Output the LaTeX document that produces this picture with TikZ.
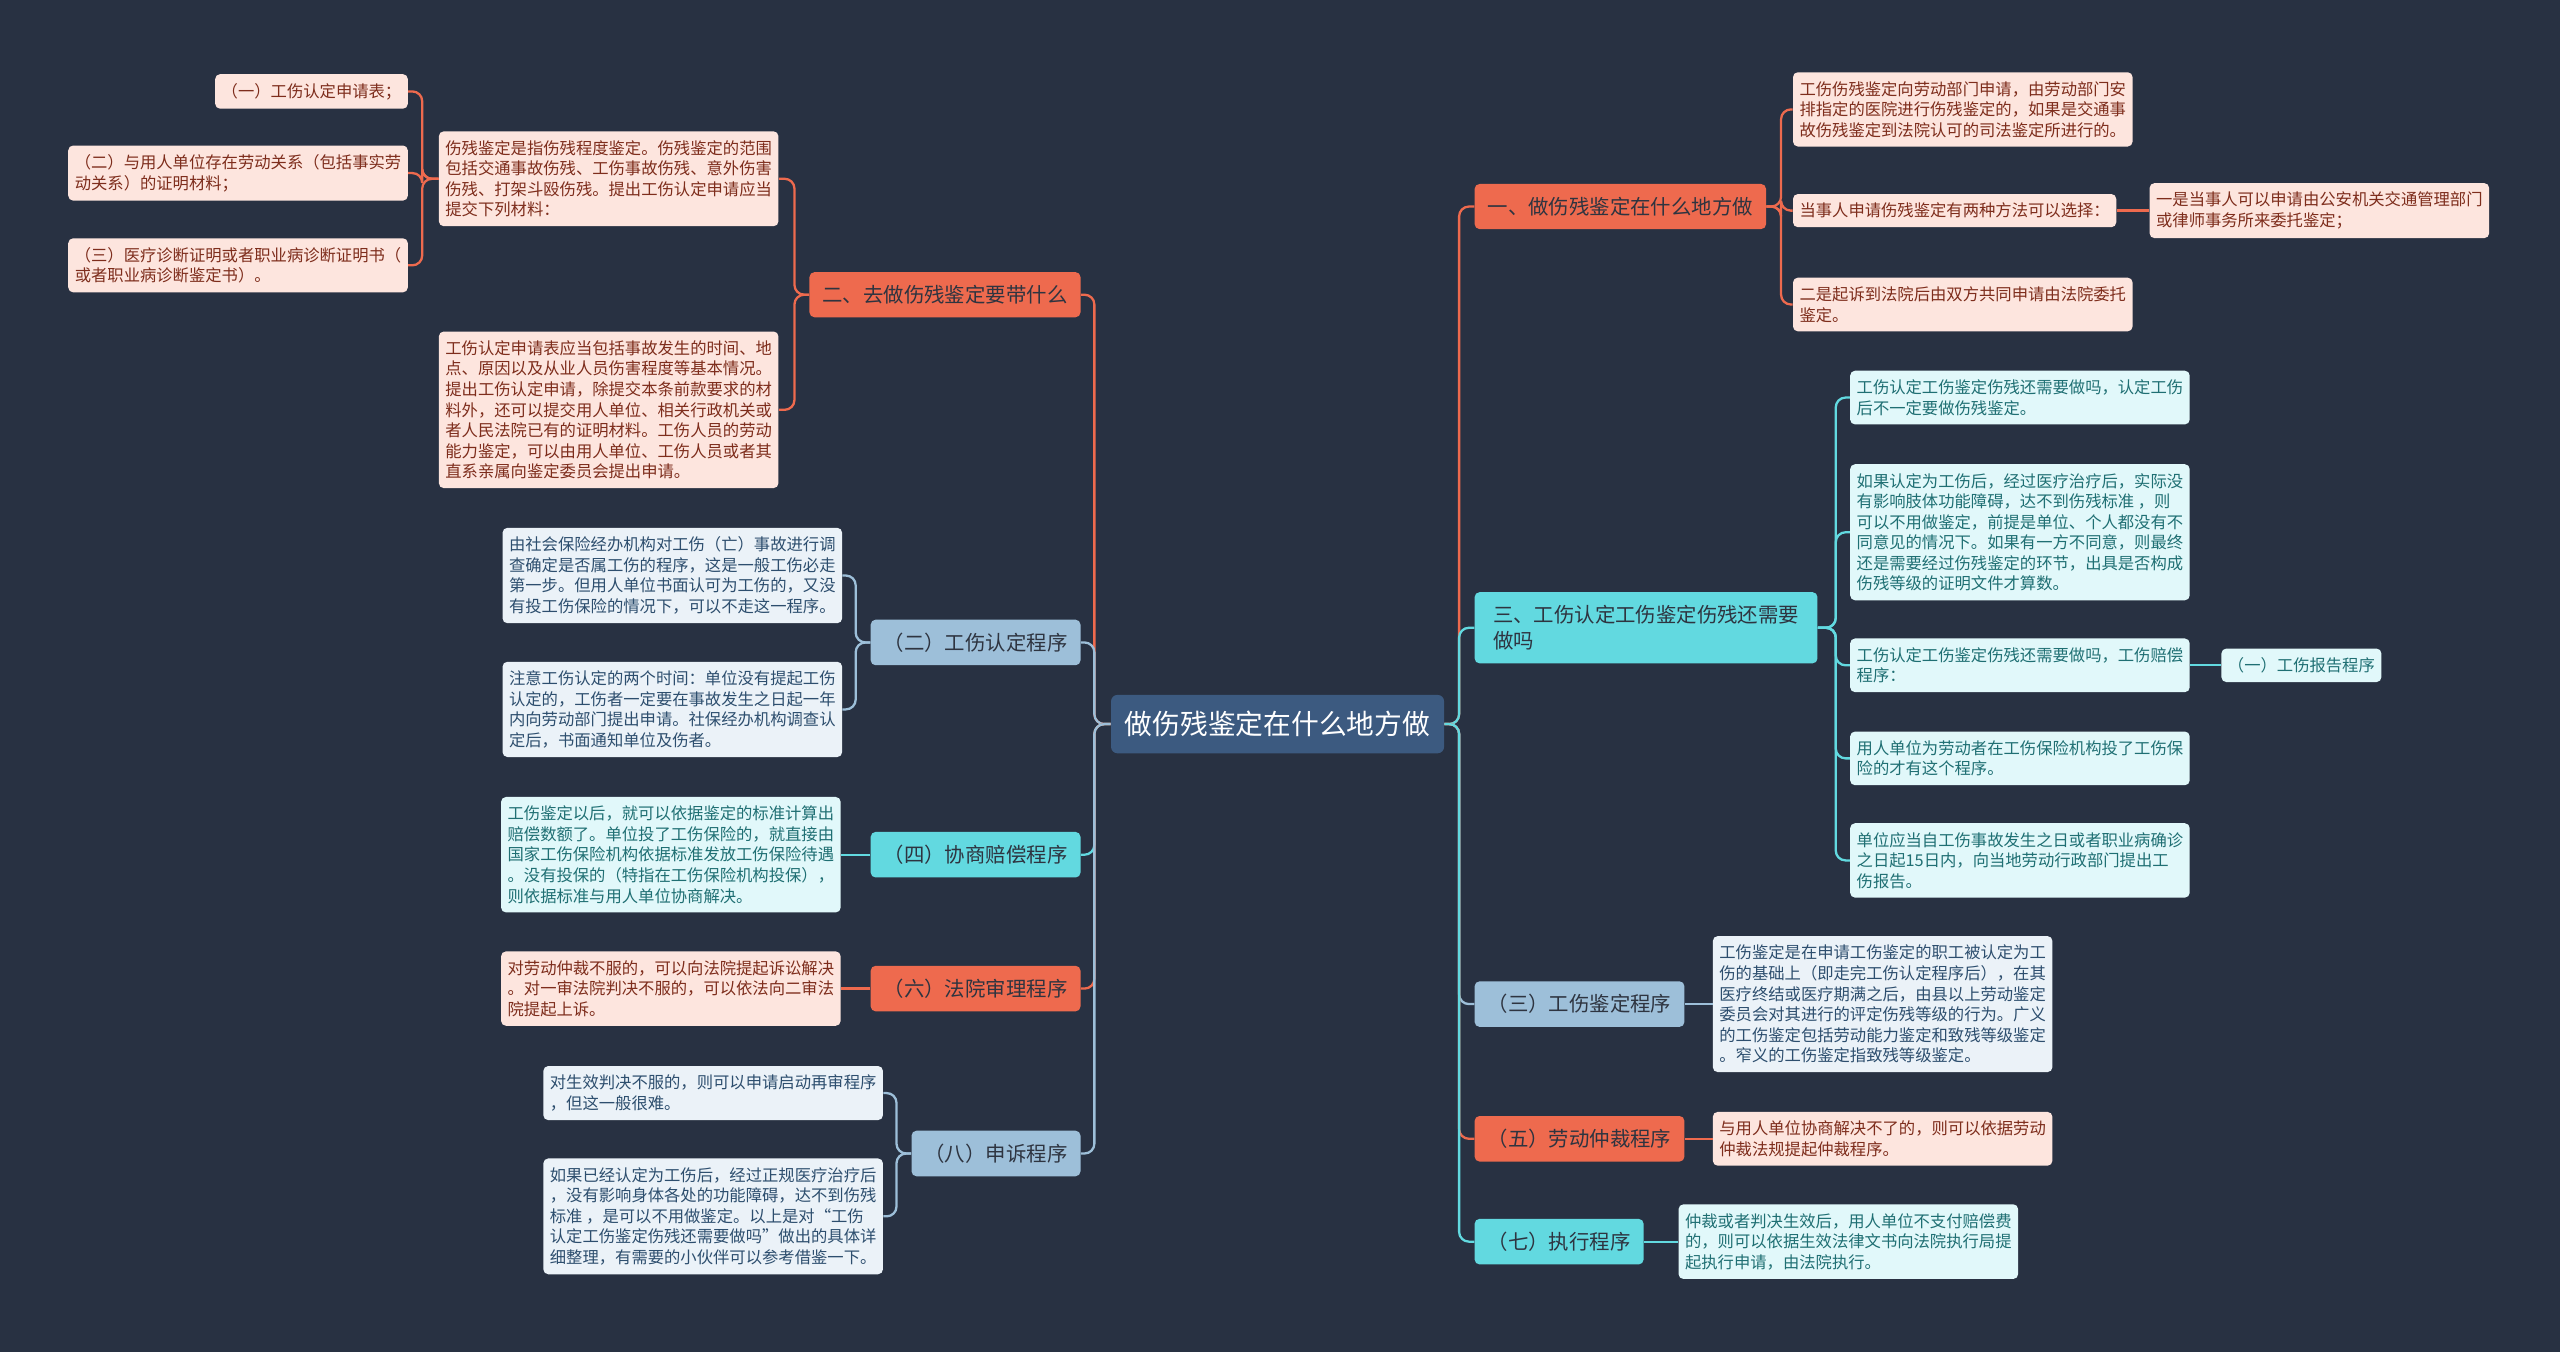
\documentclass[tikz,border=0pt]{standalone}
\usepackage{fontspec}
\setmainfont{Noto Sans CJK SC}
\usepackage{xcolor}
\usepackage{tikz}
\usetikzlibrary{positioning}

\definecolor{bg}{HTML}{283142}
\definecolor{rootfill}{HTML}{3C5A80}
\definecolor{coral}{HTML}{EE6A4E}
\definecolor{aqua}{HTML}{62D9E0}
\definecolor{steel}{HTML}{9DBFD9}
\definecolor{topicink}{HTML}{2E3440}
\definecolor{pinkfill}{HTML}{FDE5DE}
\definecolor{pinkink}{HTML}{7E2D1C}
\definecolor{aquafill}{HTML}{E1F8FA}
\definecolor{aquaink}{HTML}{1F6F73}
\definecolor{bluefill}{HTML}{EBF2F8}
\definecolor{blueink}{HTML}{2D4E6E}

\begin{document}
\begin{tikzpicture}[
    x=1pt, y=-1pt,
    root/.style={fill=rootfill, text=white, rounded corners=4pt, inner xsep=8.5pt, inner ysep=10pt,
        font=\fontsize{17}{20}\selectfont},
    topic/.style={rounded corners=3pt, align=left, inner xsep=8pt, inner ysep=8pt, text=topicink,
        font=\fontsize{12.5}{16}\selectfont},
    leaf/.style={rounded corners=3pt, align=left, inner xsep=4pt, inner ysep=5.5pt,
        font=\fontsize{10}{12.6}\selectfont},
    pinkleaf/.style={leaf, fill=pinkfill, text=pinkink},
    aqualeaf/.style={leaf, fill=aquafill, text=aquaink},
    blueleaf/.style={leaf, fill=bluefill, text=blueink},
    wire/.style={line width=1.4pt, rounded corners=6pt}
]
\useasboundingbox (0,0) rectangle (1568,828);
\fill[bg] (0,0) rectangle (1568,828);

% Root
\node[root] (root) at (782.5,443.5) {做伤残鉴定在什么地方做};

% Right side
\node[topic, fill=coral, anchor=west] (r1) at (903,126.5) {一、做伤残鉴定在什么地方做};
\node[pinkleaf, anchor=west] (r1a) at (1098,67) {工伤伤残鉴定向劳动部门申请，由劳动部门安\\排指定的医院进行伤残鉴定的，如果是交通事\\故伤残鉴定到法院认可的司法鉴定所进行的。};
\node[pinkleaf, anchor=west] (r1b) at (1098,129) {当事人申请伤残鉴定有两种方法可以选择：};
\node[pinkleaf, right=20pt of r1b] (r1b1) {一是当事人可以申请由公安机关交通管理部门\\或律师事务所来委托鉴定；};
\node[pinkleaf, anchor=west] (r1c) at (1098,186.5) {二是起诉到法院后由双方共同申请由法院委托\\鉴定。};

\node[topic, fill=aqua, anchor=west, minimum width=210pt] (r3) at (903,384.5) {三、工伤认定工伤鉴定伤残还需要\\做吗};
\node[aqualeaf, anchor=west] (r3a) at (1133,243.5) {工伤认定工伤鉴定伤残还需要做吗，认定工伤\\后不一定要做伤残鉴定。};
\node[aqualeaf, anchor=west] (r3b) at (1133,326) {如果认定为工伤后，经过医疗治疗后，实际没\\有影响肢体功能障碍，达不到伤残标准 ，则\\可以不用做鉴定，前提是单位、个人都没有不\\同意见的情况下。如果有一方不同意，则最终\\还是需要经过伤残鉴定的环节，出具是否构成\\伤残等级的证明文件才算数。};
\node[aqualeaf, anchor=west] (r3c) at (1133,407.5) {工伤认定工伤鉴定伤残还需要做吗，工伤赔偿\\程序：};
\node[aqualeaf, right=19pt of r3c] (r3c1) {（一）工伤报告程序};
\node[aqualeaf, anchor=west] (r3d) at (1133,464.5) {用人单位为劳动者在工伤保险机构投了工伤保\\险的才有这个程序。};
\node[aqualeaf, anchor=west] (r3e) at (1133,527) {单位应当自工伤事故发生之日或者职业病确诊\\之日起15日内，向当地劳动行政部门提出工\\伤报告。};

\node[topic, fill=steel, anchor=west] (rs3) at (903,615) {（三）工伤鉴定程序};
\node[blueleaf, right=17pt of rs3] (rs3a) {工伤鉴定是在申请工伤鉴定的职工被认定为工\\伤的基础上（即走完工伤认定程序后），在其\\医疗终结或医疗期满之后，由县以上劳动鉴定\\委员会对其进行的评定伤残等级的行为。广义\\的工伤鉴定包括劳动能力鉴定和致残等级鉴定\\。窄义的工伤鉴定指致残等级鉴定。};

\node[topic, fill=coral, anchor=west] (rs5) at (903,697.5) {（五）劳动仲裁程序};
\node[pinkleaf, right=17pt of rs5] (rs5a) {与用人单位协商解决不了的，则可以依据劳动\\仲裁法规提起仲裁程序。};

\node[topic, fill=aqua, anchor=west] (rs7) at (903,760.5) {（七）执行程序};
\node[aqualeaf, right=21pt of rs7] (rs7a) {仲裁或者判决生效后，用人单位不支付赔偿费\\的，则可以依据生效法律文书向法院执行局提\\起执行申请，由法院执行。};

% Left side
\node[topic, fill=coral, anchor=east] (l2) at (662,180.5) {二、去做伤残鉴定要带什么};
\node[pinkleaf, anchor=east] (l2a) at (477,109.5) {伤残鉴定是指伤残程度鉴定。伤残鉴定的范围\\包括交通事故伤残、工伤事故伤残、意外伤害\\伤残、打架斗殴伤残。提出工伤认定申请应当\\提交下列材料：};
\node[pinkleaf, anchor=east] (l2a1) at (250,56) {（一）工伤认定申请表；};
\node[pinkleaf, anchor=east] (l2a2) at (250,106) {（二）与用人单位存在劳动关系（包括事实劳\\动关系）的证明材料；};
\node[pinkleaf, anchor=east] (l2a3) at (250,162.5) {（三）医疗诊断证明或者职业病诊断证明书（\\或者职业病诊断鉴定书）。};
\node[pinkleaf, anchor=east] (l2b) at (477,251) {工伤认定申请表应当包括事故发生的时间、地\\点、原因以及从业人员伤害程度等基本情况。\\提出工伤认定申请，除提交本条前款要求的材\\料外，还可以提交用人单位、相关行政机关或\\者人民法院已有的证明材料。工伤人员的劳动\\能力鉴定，可以由用人单位、工伤人员或者其\\直系亲属向鉴定委员会提出申请。};

\node[topic, fill=steel, anchor=east] (ls2) at (662,393.5) {（二）工伤认定程序};
\node[blueleaf, anchor=east] (ls2a) at (516,352.5) {由社会保险经办机构对工伤（亡）事故进行调\\查确定是否属工伤的程序，这是一般工伤必走\\第一步。但用人单位书面认可为工伤的，又没\\有投工伤保险的情况下，可以不走这一程序。};
\node[blueleaf, anchor=east] (ls2b) at (516,434.5) {注意工伤认定的两个时间：单位没有提起工伤\\认定的，工伤者一定要在事故发生之日起一年\\内向劳动部门提出申请。社保经办机构调查认\\定后，书面通知单位及伤者。};

\node[topic, fill=aqua, anchor=east] (ls4) at (662,523.5) {（四）协商赔偿程序};
\node[aqualeaf, left=18pt of ls4] (ls4a) {工伤鉴定以后，就可以依据鉴定的标准计算出\\赔偿数额了。单位投了工伤保险的，就直接由\\国家工伤保险机构依据标准发放工伤保险待遇\\。没有投保的（特指在工伤保险机构投保），\\则依据标准与用人单位协商解决。};

\node[topic, fill=coral, anchor=east] (ls6) at (662,605.5) {（六）法院审理程序};
\node[pinkleaf, left=18pt of ls6] (ls6a) {对劳动仲裁不服的，可以向法院提起诉讼解决\\。对一审法院判决不服的，可以依法向二审法\\院提起上诉。};

\node[topic, fill=steel, anchor=east] (ls8) at (662,706.5) {（八）申诉程序};
\node[blueleaf, anchor=east] (ls8a) at (541,669.5) {对生效判决不服的，则可以申请启动再审程序\\，但这一般很难。};
\node[blueleaf, anchor=east] (ls8b) at (541,745) {如果已经认定为工伤后，经过正规医疗治疗后\\，没有影响身体各处的功能障碍，达不到伤残\\标准 ，是可以不用做鉴定。以上是对“工伤\\认定工伤鉴定伤残还需要做吗”做出的具体详\\细整理，有需要的小伙伴可以参考借鉴一下。};

% Links, right
\draw[wire, coral] (root.east) -- ++(9,0) |- (r1.west);
\draw[wire, aqua] (root.east) -- ++(9,0) |- (r3.west);
\draw[wire, steel] (root.east) -- ++(9,0) |- (rs3.west);
\draw[wire, coral] (root.east) -- ++(9,0) |- (rs5.west);
\draw[wire, aqua] (root.east) -- ++(9,0) |- (rs7.west);
\foreach \n in {r1a,r1b,r1c}
  \draw[wire, coral] (r1.east) -- ++(9,0) |- (\n.west);
\draw[wire, coral] (r1b.east) -- (r1b1.west);
\foreach \n in {r3a,r3b,r3c,r3d,r3e}
  \draw[wire, aqua] (r3.east) -- ++(11,0) |- (\n.west);
\draw[wire, aqua] (r3c.east) -- (r3c1.west);
\draw[wire, steel] (rs3.east) -- (rs3a.west);
\draw[wire, coral] (rs5.east) -- (rs5a.west);
\draw[wire, aqua] (rs7.east) -- (rs7a.west);

% Links, left
\draw[wire, coral] (root.west) -- ++(-10,0) |- (l2.east);
\draw[wire, steel] (root.west) -- ++(-10,0) |- (ls2.east);
\draw[wire, aqua] (root.west) -- ++(-10,0) |- (ls4.east);
\draw[wire, coral] (root.west) -- ++(-10,0) |- (ls6.east);
\draw[wire, steel] (root.west) -- ++(-10,0) |- (ls8.east);
\foreach \n in {l2a,l2b}
  \draw[wire, coral] (l2.west) -- ++(-9,0) |- (\n.east);
\foreach \n in {l2a1,l2a2,l2a3}
  \draw[wire, coral] (l2a.west) -- ++(-10,0) |- (\n.east);
\foreach \n in {ls2a,ls2b}
  \draw[wire, steel] (ls2.west) -- ++(-9,0) |- (\n.east);
\draw[wire, aqua] (ls4.west) -- (ls4a.east);
\draw[wire, coral] (ls6.west) -- (ls6a.east);
\foreach \n in {ls8a,ls8b}
  \draw[wire, steel] (ls8.west) -- ++(-9,0) |- (\n.east);
\end{tikzpicture}
\end{document}
